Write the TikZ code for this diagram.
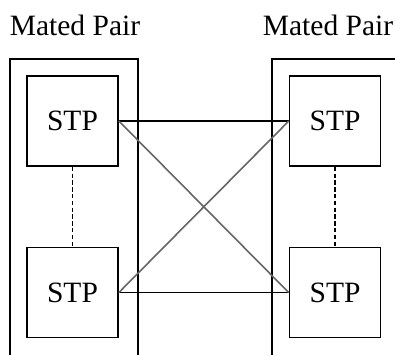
\documentclass[tikz,border=0pt]{standalone}
\usepackage{fontspec}
\setmainfont{Liberation Serif}
\usetikzlibrary{positioning}

\begin{document}
\begin{tikzpicture}[
    x=0.5pt, y=-0.5pt,
    font=\fontsize{14.75}{17}\selectfont,
    node distance=40pt and 85pt,
    stp/.style={draw, line width=0.8pt, minimum width=45.5pt,
                minimum height=45pt, inner sep=0pt, fill=white},
    frame/.style={draw, line width=0.8pt},
    link/.style={line width=0.8pt},
    cross/.style={line width=0.8pt, black!60},
    mate/.style={line width=0.8pt, dash pattern=on 2.2pt off 1.2pt},
    pairlabel/.style={anchor=base, inner sep=0pt}
]
\useasboundingbox (0,0) rectangle (395,354);
\clip (0,0) rectangle (395,354);

% -- mated pair frames (open below)
\draw[frame] (10,370) -- (10,59) -- (138,59) -- (138,370);
\draw[frame] (272,370) -- (272,59) -- (410,59);

% -- STPs
\node[stp] (stpA) at (72.5,121) {STP};
\node[stp, below=of stpA] (stpB) {STP};
\node[stp, right=of stpA] (stpC) {STP};
\node[stp, below=of stpC] (stpD) {STP};

% -- labels
\node[pairlabel] (pairL) at (75,35) {Mated Pair};
\node[pairlabel] (pairR) at (328,35) {Mated Pair};

% -- links
\draw[mate] (stpA) -- (stpB);
\draw[mate] (stpC) -- (stpD);
\draw[link] (stpA.east) -- (stpC.west);
\draw[link] (stpB.east) -- (stpD.west);
\draw[cross] (stpA.east) -- (stpD.west);
\draw[cross] (stpB.east) -- (stpC.west);

\end{tikzpicture}
\end{document}
